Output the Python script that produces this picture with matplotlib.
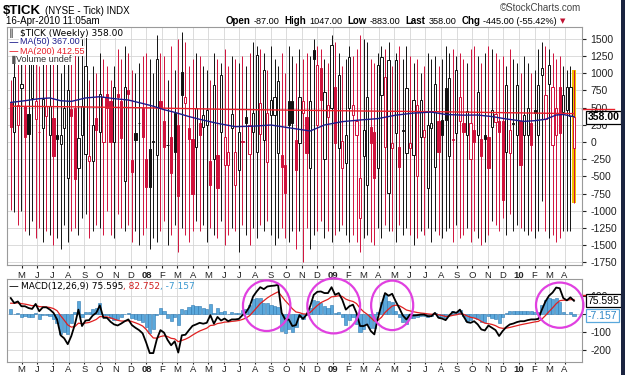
import datetime as dt
import matplotlib
matplotlib.use("Agg")
import matplotlib.pyplot as plt
from matplotlib.patches import Ellipse, Rectangle

plt.rcParams["axes.unicode_minus"] = False
plt.rcParams["font.family"] = ["Liberation Sans", "DejaVu Sans"]

# weekly $TICK candles, first week ending 6-Apr-2007
start = dt.date(2007, 4, 6)

opens = [560, 150, 250, 790, 520, 400, 640, 330, 150, 200,
         380, 100, 350, 100, -30, 200, -520, 480, 500, -380,
         100, -170, -270, -280, 350, 150, 5, 700, 600, 0,
         700, 600, -560, 750, -260, 126, 270, 490, -240, -100,
         5, -190, 600, 300, -50, 80, 420, 250, 1020, 560,
         200, 50, -70, 270, 220, 250, -280, -240, -190, 150,
         -330, -330, 200, -620, -410, 5, 370, -170, 150, -140,
         120, 30, -290, 390, 390, -160, -190, -330, 590, 600,
         30, -10, 420, 370, -380, 1340, 250, 1070, -240, 370,
         490, 800, -90, -380, -300, 490, 390, 100, -1110, -210,
         -620, 220, 150, -380, 680, -70, -740, -90, 130, -70,
         160, -160, -90, -190, -500, 80, 80, -670, 200, -360,
         300, 320, 780, -210, 30, 130, 300, 270, 100, -240,
         170, 100, 50, 100, 80, 220, 290, 300, 300, -140,
         -160, 260, 100, 300, 100, 100, 270, 470, 100, 970,
         340, 850, -40, 100, 800, 430, 460, 380, -87]
highs = [900, 1150, 1200, 1400, 1250, 1300, 1450, 1200, 1100, 1350,
         1250, 1400, 1300, 1150, 1000, 1250, 1350, 1450, 1400, 1250,
         1500, 1600, 900, 1100, 1000, 1300, 1200, 1100, 900, 1100,
         1350, 1200, 1400, 1300, 1050, 1000, 1150, 1250, 1300, 1200,
         1000, 1550, 1300, 1250, 900, 1400, 1050, 1500, 1600, 1450,
         1100, 1200, 1300, 1250, 1100, 1050, 900, 1300, 1200, 1150,
         1350, 1100, 1250, 1200, 1150, 1250, 1100, 1300, 1450, 1400,
         1350, 1300, 1050, 1400, 1200, 1100, 1300, 1000, 1400, 1250,
         1150, 1350, 1200, 1300, 1250, 1500, 1400, 1350, 1200, 1150,
         1550, 1450, 1300, 1100, 1200, 1400, 1250, 1350, 1550, 1500,
         1450, 1200, 1150, 1300, 1400, 1350, 1450, 1100, 1300, 1400,
         1200, 1400, 1250, 1150, 1200, 1000, 1100, 1300, 1200, 1250,
         1100, 1200, 1400, 1300, 1350, 1250, 1300, 1200, 1150, 1350,
         1400, 1250, 1150, 1300, 1400, 1350, 1300, 1200, 1250, 1100,
         1350, 1200, 1150, 1000, 1250, 1150, 1000, 1050, 1350, 1450,
         1400, 1350, 1300, 1200, 1250, 1100, 1050, 1100, 1047]
lows = [-990, -1010, -1200, -1000, -1300, -1350, -1150, -1400, -1250, -1450,
        -1300, -1350, -1500, -1400, -1550, -1200, -1450, -1300, -1250, -1350,
        -1100, -1050, -1400, -1300, -1200, -1250, -1350, -1000, -1350, -1400,
        -1050, -1250, -1300, -1200, -1450, -1300, -1500, -1350, -1250, -1550,
        -1400, -1450, -1300, -1150, -1500, -1350, -1200, -1600, -1250, -1350,
        -1450, -1300, -1150, -1300, -1200, -1450, -1250, -1350, -1400, -1150,
        -1500, -1350, -1250, -1300, -1600, -1200, -1350, -1500, -1250, -1400,
        -1200, -1300, -1150, -1350, -1500, -1400, -1250, -1400, -1450, -1300,
        -1550, -1300, -1750, -1250, -1550, -1350, -1300, -1150, -1400, -1300,
        -1450, -1350, -1300, -1200, -1350, -1450, -1350, -1450, -1600, -1400,
        -1350, -1450, -1500, -1250, -1400, -1200, -1300, -1300, -1450, -1200,
        -1350, -1250, -1350, -1500, -1400, -1300, -1350, -1250, -1450, -1300,
        -1350, -1400, -1300, -1250, -1450, -1200, -1400, -1350, -1250, -1450,
        -1300, -1400, -1500, -1450, -1350, -1150, -1200, -1300, -1100, -1350,
        -1050, -1300, -1200, -1250, -1300, -1350, -1300, -1400, -1300, -850,
        -1300, -1400, -1350, -1450, -1400, -1300, -1300, -1300, -883]
closes = [220, 950, 540, 850, 80, 120, 1150, 590, 140, 620,
          530, 530, -200, 40, 100, 500, 750, 380, -540, 60,
          520, 1100, -210, 250, 180, 700, 650, 500, 0, 800,
          650, 60, 800, 700, -430, 29, 270, 80, -650, -650,
          20, 1200, 500, -70, -40, -450, -140, -790, 680, 650,
          50, -750, 500, 100, 390, 460, -620, 830, -670, 970,
          80, -140, 400, -140, 150, 10, 270, 250, 420, 1260,
          560, 1050, 420, 610, 660, 880, -360, -740, 250, 280,
          -410, 660, 590, -160, 590, 1210, 1120, 610, 730, 540,
          1410, -20, 970, 20, 100, 1240, 540, 300, -530, 170,
          660, -20, -530, 1120, 1240, 950, 1190, -10, 1190, -360,
          160, 780, -20, 610, 540, 610, 180, 250, 270, 850,
          -140, 100, 320, 930, 30, 1050, 650, 150, 450, 270,
          5, 730, -210, 50, -380, 460, 410, 150, -840, 830,
          170, 260, 830, -330, 390, 490, -40, 420, 830, 1070,
          680, 1120, 800, 490, 130, 680, 800, 803, 358]

# moving averages read at a few weeks
ma50_weeks = [0, 4, 8, 11, 14, 17, 21, 25, 29, 33, 37, 40, 43, 46, 50, 53, 58, 63, 68, 73,
              79, 84, 88, 93, 98, 103, 108, 113, 118, 122, 127, 131, 135, 139, 144, 147,
              150, 153, 155, 158]
ma50_vals = [575, 600, 630, 640, 600, 590, 640, 658, 630, 610, 560, 520, 470, 431, 370, 330,
             271, 223, 230, 247, 199, 160, 247, 296, 320, 340, 390, 420, 435, 400, 390, 392,
             370, 335, 300, 310, 330, 392, 400, 367]
ma200_weeks = [0, 20, 40, 60, 80, 100, 120, 140, 158]
ma200_vals = [520, 510, 495, 475, 462, 450, 440, 425, 412.55]

# MACD(12,26,9) weekly
macd = [91, 63, 72, 45, 45, 35, 30, 58, 17, 39,
        39, 26, 8, -29, -118, -135, -168, -122, -57, 26,
        -66, -35, -33, -7, 8, 50, -20, -20, -42, -57,
        -63, -52, -39, -29, -61, -76, -89, -107, -159, -218,
        -218, -140, -89, -103, -144, -174, -152, -215, -118, -115,
        -89, -65, -57, -48, -53, -48, -5, -53, -15, -35,
        -24, -39, -29, -29, -26, -5, 11, 43, 100, 128,
        152, 141, 156, 159, 161, 165, 8, -29, -29, -66,
        -61, -5, -26, -2, 45, 109, 126, 128, 119, 119,
        152, 109, 119, 82, 26, 45, 54, 8, -66, -66,
        -57, -94, -113, -20, 54, 119, 104, 115, 72, 35,
        -7, -29, -2, -7, -5, -2, -2, -11, -11, 8,
        -20, -24, -33, -7, 13, 8, 26, -11, -44, -48,
        -39, -57, -85, -91, -63, -76, -89, -122, -94, -72,
        -57, -52, -44, -39, -39, -33, -29, -29, -26, 26,
        72, 104, 122, 150, 146, 91, 78, 95, 75.595]
signal = [62, 62, 64, 60, 57, 53, 48, 50, 43, 42,
          41, 38, 32, 20, -8, -33, -60, -72, -69, -50,
          -53, -49, -46, -38, -29, -13, -14, -15, -20, -27,
          -34, -38, -38, -36, -41, -48, -56, -66, -85, -111,
          -133, -134, -125, -121, -125, -135, -138, -154, -147, -140,
          -130, -117, -105, -94, -86, -78, -63, -61, -52, -49,
          -44, -43, -40, -38, -35, -29, -21, -8, 14, 37,
          60, 76, 92, 105, 116, 126, 102, 76, 55, 31,
          13, 9, 2, 1, 10, 30, 49, 65, 75, 84,
          98, 100, 104, 100, 85, 77, 72, 60, 34, 14,
          0, -19, -38, -34, -17, 10, 29, 46, 51, 48,
          37, 24, 19, 14, 10, 7, 5, 2, 0, 1,
          -3, -7, -12, -11, -6, -3, 3, 0, -9, -17,
          -21, -28, -40, -50, -53, -57, -64, -75, -79, -78,
          -74, -69, -64, -59, -55, -51, -47, -43, -40, -27,
          -7, 15, 36, 59, 76, 79, 79, 82, 82.752]

# hand-drawn circles on the MACD panel: week, value, width (weeks), height
circles = [(71.8, 48, 13.3, 284), (90.6, 47, 14.8, 309),
           (107.0, 50, 11.8, 278), (154.0, 51, 13.3, 254)]

n = len(closes)
weeks = list(range(n))
hist = [m - s for m, s in zip(macd, signal)]

W, H = 625, 375
fig = plt.figure(figsize=(W / 100, H / 100), dpi=100)


def fx(px):
    return px / W


def fy(py):
    return 1 - py / H


ax = fig.add_axes([fx(7), fy(265), fx(582) - fx(7), fy(27) - fy(265)])
ax2 = fig.add_axes([fx(7), fy(362), fx(582) - fx(7), fy(279) - fy(362)])

# month ticks
months = []
y, m = 2007, 5
while (y, m) <= (2010, 4):
    months.append(dt.date(y, m, 1))
    m += 1
    if m > 12:
        m, y = 1, y + 1
mpos = [(d - start).days / 7 - 0.5 for d in months]
mlab = [d.strftime("%y") if d.month == 1 else d.strftime("%b")[0] for d in months]

GRID = "#d6d6d6"
for a in (ax, ax2):
    a.set_xlim(-1.04, 160.25)
    a.set_xticks(mpos)
    a.set_xticklabels(mlab, fontsize=6.8, color="#222222")
    for lab, d in zip(a.get_xticklabels(), months):
        if d.month == 1:
            lab.set_fontweight("bold")
    a.grid(True, color=GRID, lw=0.6)
    a.set_axisbelow(True)
    a.yaxis.tick_right()
    a.tick_params(axis="y", labelsize=7.5, length=3, pad=3, colors="#222222")
    for s in a.spines.values():
        s.set_color("#9a9a9a")
        s.set_linewidth(0.8)
ax.tick_params(axis="x", length=2, pad=2, colors="#222222")
ax2.tick_params(axis="x", length=1.5, pad=0.5, colors="#222222")

# candles
RED = "#d0103a"
BLACK = "#111111"
cols = []
for i in range(n):
    prev = closes[i - 1] if i else opens[0]
    cols.append(BLACK if closes[i] >= prev else RED)

ax.bar(n - 1, highs[-1] - lows[-1], bottom=lows[-1], width=1.3, color="#f2c200", zorder=1.5)
ax.vlines(weeks, lows, highs, colors=cols, lw=0.7, zorder=2)
body_bottom = [min(o, c) for o, c in zip(opens, closes)]
body_h = [max(abs(c - o), 12) for o, c in zip(opens, closes)]
faces = [col if c < o else "white" for col, o, c in zip(cols, opens, closes)]
ax.bar(weeks, body_h, bottom=body_bottom, width=0.62, color=faces,
       edgecolor=cols, linewidth=0.7, zorder=3)

ax.plot(ma200_weeks, ma200_vals, color="#e8202a", lw=1.0, zorder=4)
ax.plot(ma50_weeks, ma50_vals, color="#1c1c8c", lw=1.0, zorder=4)

ax.set_ylim(-1787, 1671)
ax.set_yticks(range(-1750, 1501, 250))

# MACD panel
ax2.bar(weeks, hist, width=0.9, color="#5aa8dc", edgecolor="#2f78b0", lw=0.4, zorder=2)
ax2.plot(weeks, signal, color="#e02020", lw=0.9, zorder=3)
ax2.plot(weeks, macd, color="#000000", lw=1.3, zorder=4)
ax2.set_ylim(-268, 198)
ax2.set_yticks([-200, -100, 0, 100])
ax2.set_yticklabels(["-200", "-100", "", "100"])

for cx, cy, w, h in circles:
    ax2.add_patch(Ellipse((cx, cy), w, h, fill=False, ec="#e040e0", lw=1.6,
                          zorder=6, clip_on=False))

# red marker edges peeking above the value tags (MA200 / signal)
ax.plot([1.0, 1.055], [478, 478], color="#e8202a", lw=1.0, clip_on=False,
        transform=ax.get_yaxis_transform())
ax2.plot([1.0, 1.055], [106, 106], color="#e02020", lw=1.0, clip_on=False,
         transform=ax2.get_yaxis_transform())

# value tags on the right
ax.annotate("358.00", xy=(1.0, 358), xycoords=("axes fraction", "data"),
            xytext=(4, 0), textcoords="offset points", fontsize=7.5, fontweight="bold",
            va="center", ha="left", color="black", annotation_clip=False,
            bbox=dict(boxstyle="square,pad=0.15", fc="white", ec="black", lw=0.9))
ax2.annotate("75.595", xy=(1.0, macd[-1]), xycoords=("axes fraction", "data"),
             xytext=(4, 0), textcoords="offset points", fontsize=7.5,
             va="center", ha="left", color="black", annotation_clip=False,
             bbox=dict(boxstyle="square,pad=0.15", fc="white", ec="black", lw=0.9))
ax2.annotate("-7.157", xy=(1.0, hist[-1]), xycoords=("axes fraction", "data"),
             xytext=(4, 0), textcoords="offset points", fontsize=7.5,
             va="center", ha="left", color="#2f88c8", annotation_clip=False,
             bbox=dict(boxstyle="square,pad=0.15", fc="white", ec="#5aa8dc", lw=0.9))

# header texts
renderer = fig.canvas.get_renderer()


def row(x, ypx, parts):
    for s, gap, kw in parts:
        t = fig.text(fx(x), fy(ypx), s, va="center", ha="left", zorder=10, **kw)
        x += t.get_window_extent(renderer).width + gap
    return x


fig.text(fx(3), fy(11), "$TICK", fontsize=9.5, fontweight="bold", va="center")
fig.text(fx(45), fy(11), "(NYSE - Tick) INDX", fontsize=7, va="center")
fig.text(fx(6), fy(21), "16-Apr-2010 11:05am", fontsize=7, va="center")
fig.text(fx(581), fy(8), "\u00a9StockCharts.com", fontsize=7, color="#444444",
         ha="right", va="center")

B = dict(fontsize=7, fontweight="bold")
N = dict(fontsize=6.6)
end = row(226, 21, [("Open", 3, B), ("-87.00", 5, N), ("High", 3, B), ("1047.00", 5, N),
                    ("Low", 3, B), ("-883.00", 5, N), ("Last", 3, B), ("358.00", 5, N),
                    ("Chg", 3, B), ("-445.00 (-55.42%)", 3, N)])
fig.text(fx(end), fy(21), "\u25bc", fontsize=5, color="#c01030", va="center",
         family="DejaVu Sans")

# legend in price panel
LB = dict(facecolor="white", edgecolor="none", pad=0.3)
fig.text(fx(20), fy(33), "$TICK (Weekly) 358.00", fontsize=6.5, family="DejaVu Sans",
         va="center", bbox=LB, zorder=10)
fig.text(fx(9), fy(33), "\u2551", fontsize=6, family="DejaVu Sans", va="center", zorder=10)
row(9, 42, [("\u2014", 1, dict(fontsize=7, color="#1c1c8c", family="DejaVu Sans")),
            ("MA(50) 367.00", 0, dict(fontsize=6.5, color="#1c1c8c", bbox=LB))])
row(9, 51, [("\u2014", 1, dict(fontsize=7, color="#e8202a", family="DejaVu Sans")),
            ("MA(200) 412.55", 0, dict(fontsize=6.5, color="#e8202a", bbox=LB))])
row(9, 60, [("\u2590", 1, dict(fontsize=6, color="#555555", family="DejaVu Sans")),
            ("Volume undef", 0, dict(fontsize=6.5, color="#333333", bbox=LB))])

# legend in MACD panel
row(9, 286, [("\u2014", 2, dict(fontsize=7, color="black", family="DejaVu Sans")),
             ("MACD(12,26,9) 75.595", 0, dict(fontsize=6.5, family="DejaVu Sans")),
             (", 82.752", 0, dict(fontsize=6.5, family="DejaVu Sans", color="#d02020")),
             (", -7.157", 0, dict(fontsize=6.5, family="DejaVu Sans", color="#3a98d0"))])

# dark border strip on the right edge
fig.patches.append(Rectangle((fx(621), 0), fx(4), 1, transform=fig.transFigure,
                             facecolor="#1b2440", edgecolor="none"))

fig.savefig("out.png", dpi=100)
